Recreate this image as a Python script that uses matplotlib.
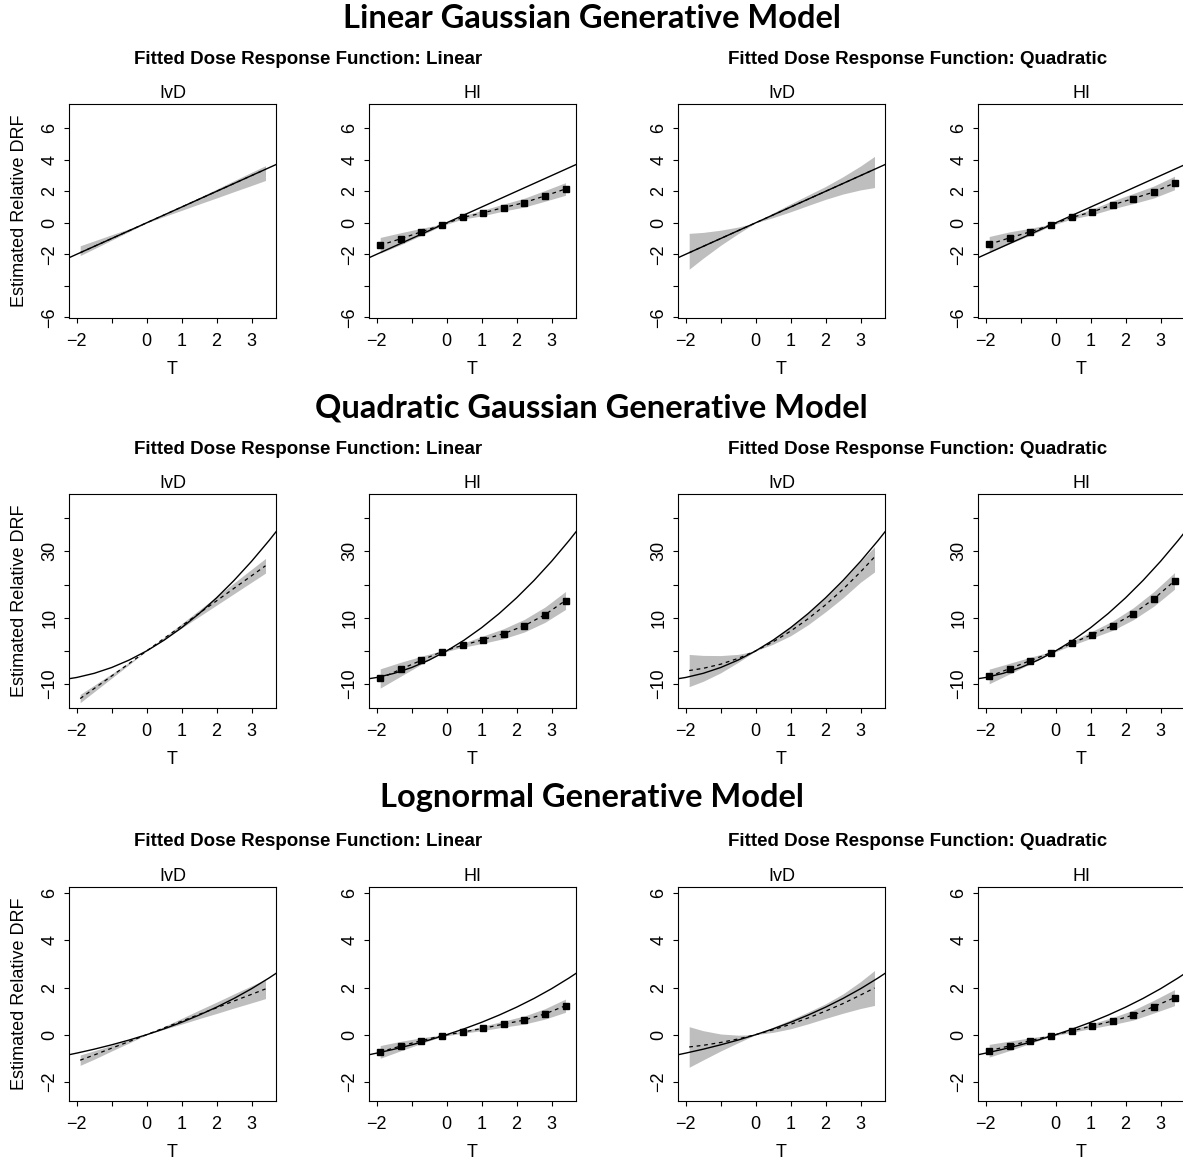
import matplotlib
matplotlib.use("Agg")
import matplotlib.pyplot as plt

plt.rcParams['font.family'] = ['Liberation Sans', 'DejaVu Sans']

# ---------------------------------------------------------------- data
row_titles = ["Linear Gaussian Generative Model",
              "Quadratic Gaussian Generative Model",
              "Lognormal Generative Model"]
fit_titles = ["Fitted Dose Response Function: Linear",
              "Fitted Dose Response Function: Quadratic"]

# treatment grid for the true curves
t_true = [-2.3, -2.0, -1.5, -1.0, -0.5, 0.0, 0.5, 1.0, 1.5, 2.0, 2.5, 3.0, 3.5, 3.8]
true_linear = [-2.3, -2.0, -1.5, -1.0, -0.5, 0.0, 0.5, 1.0, 1.5, 2.0, 2.5, 3.0, 3.5, 3.8]
true_quadratic = [-8.51, -8.0, -6.75, -5.0, -2.75, 0.0, 3.25, 7.0, 11.25, 16.0,
                  21.25, 27.0, 33.25, 37.24]
true_lognormal = [-0.874, -0.781, -0.614, -0.429, -0.226, 0.0, 0.249, 0.525, 0.830,
                  1.166, 1.537, 1.948, 2.403, 2.697]

# treatment grid for the IvD estimates
t_ivd = [-1.9, -1.5, -1.0, -0.5, 0.0, 0.5, 1.0, 1.5, 2.0, 2.5, 3.0, 3.4]
# treatment values at which HI is evaluated
t_hi = [-1.9, -1.31, -0.72, -0.13, 0.46, 1.04, 1.63, 2.22, 2.81, 3.4]

# Linear Gaussian model
lin_ivd_lin_est = [-1.9, -1.5, -1.0, -0.5, 0.0, 0.5, 1.0, 1.5, 2.0, 2.5, 3.0, 3.4]
lin_ivd_lin_lo = [-2.08, -1.65, -1.10, -0.56, -0.01, 0.40, 0.79, 1.19, 1.58, 1.98, 2.37, 2.69]
lin_ivd_lin_hi = [-1.46, -1.15, -0.76, -0.38, 0.01, 0.54, 1.07, 1.61, 2.14, 2.68, 3.21, 3.63]

lin_hi_lin_est = [-1.43, -1.01, -0.57, -0.13, 0.34, 0.63, 0.97, 1.28, 1.71, 2.15]
lin_hi_lin_lo = [-1.93, -1.39, -0.79, -0.18, 0.24, 0.45, 0.75, 1.00, 1.37, 1.75]
lin_hi_lin_hi = [-0.93, -0.63, -0.35, -0.08, 0.44, 0.81, 1.19, 1.56, 2.05, 2.55]

lin_ivd_quad_est = [-1.9, -1.5, -1.0, -0.5, 0.0, 0.5, 1.0, 1.5, 2.0, 2.5, 3.0, 3.4]
lin_ivd_quad_lo = [-2.95, -2.25, -1.43, -0.69, 0.00, 0.33, 0.70, 1.10, 1.49, 1.83, 2.09, 2.24]
lin_ivd_quad_hi = [-0.67, -0.61, -0.47, -0.27, 0.00, 0.63, 1.20, 1.76, 2.31, 2.93, 3.61, 4.22]

lin_hi_quad_est = [-1.37, -0.95, -0.57, -0.13, 0.34, 0.69, 1.14, 1.54, 1.96, 2.53]
lin_hi_quad_lo = [-1.87, -1.33, -0.79, -0.18, 0.24, 0.51, 0.89, 1.22, 1.58, 2.10]
lin_hi_quad_hi = [-0.87, -0.57, -0.35, -0.08, 0.44, 0.87, 1.39, 1.86, 2.34, 2.96]

# Quadratic Gaussian model
quad_ivd_lin_est = [-14.35, -11.33, -7.55, -3.78, 0.00, 3.78, 7.55, 11.33, 15.10, 18.88, 22.65, 25.67]
quad_ivd_lin_lo = [-15.59, -12.31, -8.20, -4.11, 0.00, 3.45, 6.90, 10.35, 13.80, 17.25, 20.70, 23.46]
quad_ivd_lin_hi = [-13.11, -10.35, -6.90, -3.45, 0.00, 4.11, 8.20, 12.31, 16.40, 20.51, 24.60, 27.88]

quad_hi_lin_est = [-8.3, -5.5, -2.8, -0.2, 1.7, 3.4, 5.2, 7.6, 10.9, 15.2]
quad_hi_lin_lo = [-11.2, -7.6, -4.0, -0.5, 1.1, 2.3, 3.7, 5.7, 8.6, 12.5]
quad_hi_lin_hi = [-5.4, -3.4, -1.6, 0.1, 2.3, 4.5, 6.7, 9.5, 13.2, 17.9]

quad_ivd_quad_est = [-5.91, -5.25, -4.00, -2.24, 0.00, 2.74, 5.97, 9.69, 13.90, 18.61, 23.81, 28.32]
quad_ivd_quad_lo = [-10.76, -9.15, -6.60, -3.44, 0.00, 2.04, 4.57, 7.89, 11.80, 16.01, 20.70, 23.80]
quad_ivd_quad_hi = [-1.06, -1.35, -1.40, -1.04, 0.00, 3.44, 7.37, 11.49, 16.00, 21.21, 27.00, 31.40]

quad_hi_quad_est = [-7.7, -5.3, -2.9, -0.5, 2.3, 4.9, 7.6, 11.2, 15.7, 21.1]
quad_hi_quad_lo = [-9.9, -6.9, -3.9, -0.8, 1.7, 3.9, 6.2, 9.4, 13.5, 18.6]
quad_hi_quad_hi = [-5.5, -3.7, -1.9, -0.2, 2.9, 5.9, 9.0, 13.0, 17.9, 23.6]

# Lognormal model
logn_ivd_lin_est = [-1.08, -0.86, -0.57, -0.29, 0.00, 0.29, 0.57, 0.86, 1.14, 1.43, 1.71, 1.94]
logn_ivd_lin_lo = [-1.30, -1.04, -0.69, -0.35, 0.00, 0.23, 0.45, 0.68, 0.90, 1.13, 1.35, 1.53]
logn_ivd_lin_hi = [-0.86, -0.68, -0.45, -0.23, 0.00, 0.35, 0.69, 1.04, 1.38, 1.73, 2.07, 2.35]

logn_hi_lin_est = [-0.73, -0.48, -0.25, -0.04, 0.11, 0.27, 0.45, 0.62, 0.88, 1.23]
logn_hi_lin_lo = [-1.00, -0.68, -0.37, -0.07, 0.06, 0.18, 0.32, 0.45, 0.66, 0.95]
logn_hi_lin_hi = [-0.46, -0.28, -0.13, -0.01, 0.16, 0.36, 0.58, 0.79, 1.10, 1.51]

logn_ivd_quad_est = [-0.52, -0.45, -0.33, -0.18, 0.00, 0.21, 0.44, 0.71, 1.00, 1.32, 1.68, 1.98]
logn_ivd_quad_lo = [-1.38, -1.07, -0.69, -0.34, 0.00, 0.10, 0.25, 0.46, 0.69, 0.91, 1.11, 1.24]
logn_ivd_quad_hi = [0.34, 0.17, 0.03, -0.02, 0.00, 0.32, 0.63, 0.96, 1.31, 1.73, 2.25, 2.72]

logn_hi_quad_est = [-0.68, -0.47, -0.25, -0.04, 0.16, 0.37, 0.58, 0.83, 1.19, 1.57]
logn_hi_quad_lo = [-0.95, -0.67, -0.37, -0.07, 0.10, 0.27, 0.43, 0.62, 0.92, 1.23]
logn_hi_quad_hi = [-0.41, -0.27, -0.13, -0.01, 0.22, 0.47, 0.73, 1.04, 1.46, 1.91]

x_ticks = [-2, -1, 0, 1, 2, 3]
x_ticklabels = ["\u22122", "", "0", "1", "2", "3"]
y_ticks = [[6, 4, 2, 0, -2, -4, -6],
           [40, 30, 20, 10, 0, -10],
           [6, 4, 2, 0, -2]]
y_ticklabels = [["6", "4", "2", "0", "\u22122", "", "\u22126"],
                ["", "30", "", "10", "", "\u221210"],
                ["6", "4", "2", "0", "\u22122"]]
y_limits = [(-6.05, 7.55), (-17.2, 47.3), (-2.81, 6.26)]
x_limits = (-2.22, 3.70)

true_curves = [true_linear, true_quadratic, true_lognormal]
panels = [
    [("IvD", lin_ivd_lin_est, lin_ivd_lin_lo, lin_ivd_lin_hi),
     ("HI", lin_hi_lin_est, lin_hi_lin_lo, lin_hi_lin_hi),
     ("IvD", lin_ivd_quad_est, lin_ivd_quad_lo, lin_ivd_quad_hi),
     ("HI", lin_hi_quad_est, lin_hi_quad_lo, lin_hi_quad_hi)],
    [("IvD", quad_ivd_lin_est, quad_ivd_lin_lo, quad_ivd_lin_hi),
     ("HI", quad_hi_lin_est, quad_hi_lin_lo, quad_hi_lin_hi),
     ("IvD", quad_ivd_quad_est, quad_ivd_quad_lo, quad_ivd_quad_hi),
     ("HI", quad_hi_quad_est, quad_hi_quad_lo, quad_hi_quad_hi)],
    [("IvD", logn_ivd_lin_est, logn_ivd_lin_lo, logn_ivd_lin_hi),
     ("HI", logn_hi_lin_est, logn_hi_lin_lo, logn_hi_lin_hi),
     ("IvD", logn_ivd_quad_est, logn_ivd_quad_lo, logn_ivd_quad_hi),
     ("HI", logn_hi_quad_est, logn_hi_quad_lo, logn_hi_quad_hi)],
]

# ---------------------------------------------------------------- layout
W, H = 1183, 1162
fig = plt.figure(figsize=(W / 100, H / 100), dpi=100)

col_left = [69, 369, 678, 978]
ax_w = 207
row_top = [104, 494, 887]
ax_h = 214
row_title_y = [18, 408, 797]
fit_title_y = [60, 450, 842]
fit_title_x = [308, 918]

band_color = "#bebebe"
fs = 13

for r in range(3):
    fig.text(0.5, 1 - row_title_y[r] / H, row_titles[r],
             ha="center", va="center", fontsize=23.5, fontweight="bold",
             family=["Lato", "DejaVu Sans"])
    for k in range(2):
        fig.text(fit_title_x[k] / W, 1 - fit_title_y[r] / H, fit_titles[k],
                 ha="center", va="center", fontsize=13.5, fontweight="bold")
    for c in range(4):
        name, est, lo, hi = panels[r][c]
        ax = fig.add_axes([col_left[c] / W, 1 - (row_top[r] + ax_h) / H,
                           ax_w / W, ax_h / H])
        tx = t_hi if name == "HI" else t_ivd
        ax.fill_between(tx, lo, hi, color=band_color, linewidth=0, zorder=1)
        ax.plot(tx, est, color="black", linewidth=0.9, linestyle=(0, (3, 3)),
                zorder=3)
        ax.plot(t_true, true_curves[r], color="black", linewidth=1.0, zorder=4)
        if name == "HI":
            ax.plot(tx, est, linestyle="none", marker="s", markersize=4.6,
                    color="black", zorder=5)
        ax.set_xlim(*x_limits)
        ax.set_ylim(*y_limits[r])
        ax.set_xticks(x_ticks)
        ax.set_xticklabels(x_ticklabels)
        ax.set_yticks(y_ticks[r])
        ax.set_yticklabels(y_ticklabels[r], rotation=90, va="center")
        ax.tick_params(direction="out", length=3.5, width=0.8, labelsize=fs,
                       pad=7)
        ax.tick_params(axis="y", pad=4)
        for s in ax.spines.values():
            s.set_linewidth(0.8)
        ax.set_title(name, fontsize=fs, pad=4)
        ax.set_xlabel("T", fontsize=fs, labelpad=8)
        if c == 0:
            ax.set_ylabel("Estimated Relative DRF", fontsize=fs, labelpad=10)

fig.savefig("out.png", dpi=100)
